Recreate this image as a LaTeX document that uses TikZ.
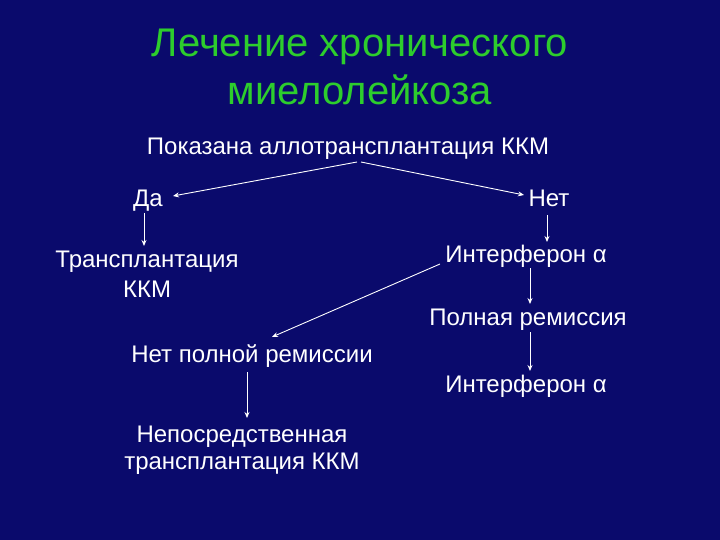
\documentclass[tikz,border=0pt]{standalone}
\usepackage{fontspec}
\setmainfont{Liberation Sans}
\usetikzlibrary{arrows.meta}
\definecolor{bg}{RGB}{10,10,108}
\definecolor{titlegreen}{RGB}{45,205,45}
\begin{document}
\begin{tikzpicture}[x=1pt,y=-1pt,
  txt/.style={text=white,font=\fontsize{24}{28}\selectfont,inner sep=0pt,align=center,anchor=base},
  ttl/.style={text=titlegreen,font=\fontsize{40}{48}\selectfont,inner sep=0pt,align=center,anchor=base},
  arr/.style={draw=white,line width=0.9pt,-{Stealth[length=6pt,width=5pt]}}]
\fill[bg] (0,0) rectangle (720,540);
\useasboundingbox (0,0) rectangle (720,540);
\node[ttl] (t1) at (360,57) {Лечение хронического};
\node[ttl] (t2) at (360,105) {миелолейкоза};
\node[txt] (q) at (348,155) {Показана аллотрансплантация ККМ};
\node[txt] (da) at (148,207) {Да};
\node[txt] (net) at (549,207) {Нет};
\node[txt,font=\fontsize{24}{30}\selectfont] (tr) at (147,297) {Трансплантация\\ККМ};
\node[txt] (if1) at (526,262) {Интерферон α};
\node[txt] (pr) at (528,325) {Полная ремиссия};
\node[txt] (npr) at (252,362) {Нет полной ремиссии};
\node[txt] (if2) at (526,392) {Интерферон α};
\node[txt,font=\fontsize{24}{27}\selectfont] (np) at (242,469) {Непосредственная\\трансплантация ККМ};
\coordinate (qa) at (357,162);
\coordinate (qb) at (361,162);
\draw[arr] (qa) -- (173,196);
\draw[arr] (qb) -- (524,195);
\draw[arr] (144,213) -- (144,246);
\draw[arr] (547,215) -- (547,242);
\draw[arr] (440,264) -- (272,337);
\draw[arr] (530,268) -- (530,304);
\draw[arr] (530,332) -- (530,371);
\draw[arr] (247,372) -- (247,418);
\end{tikzpicture}
\end{document}
